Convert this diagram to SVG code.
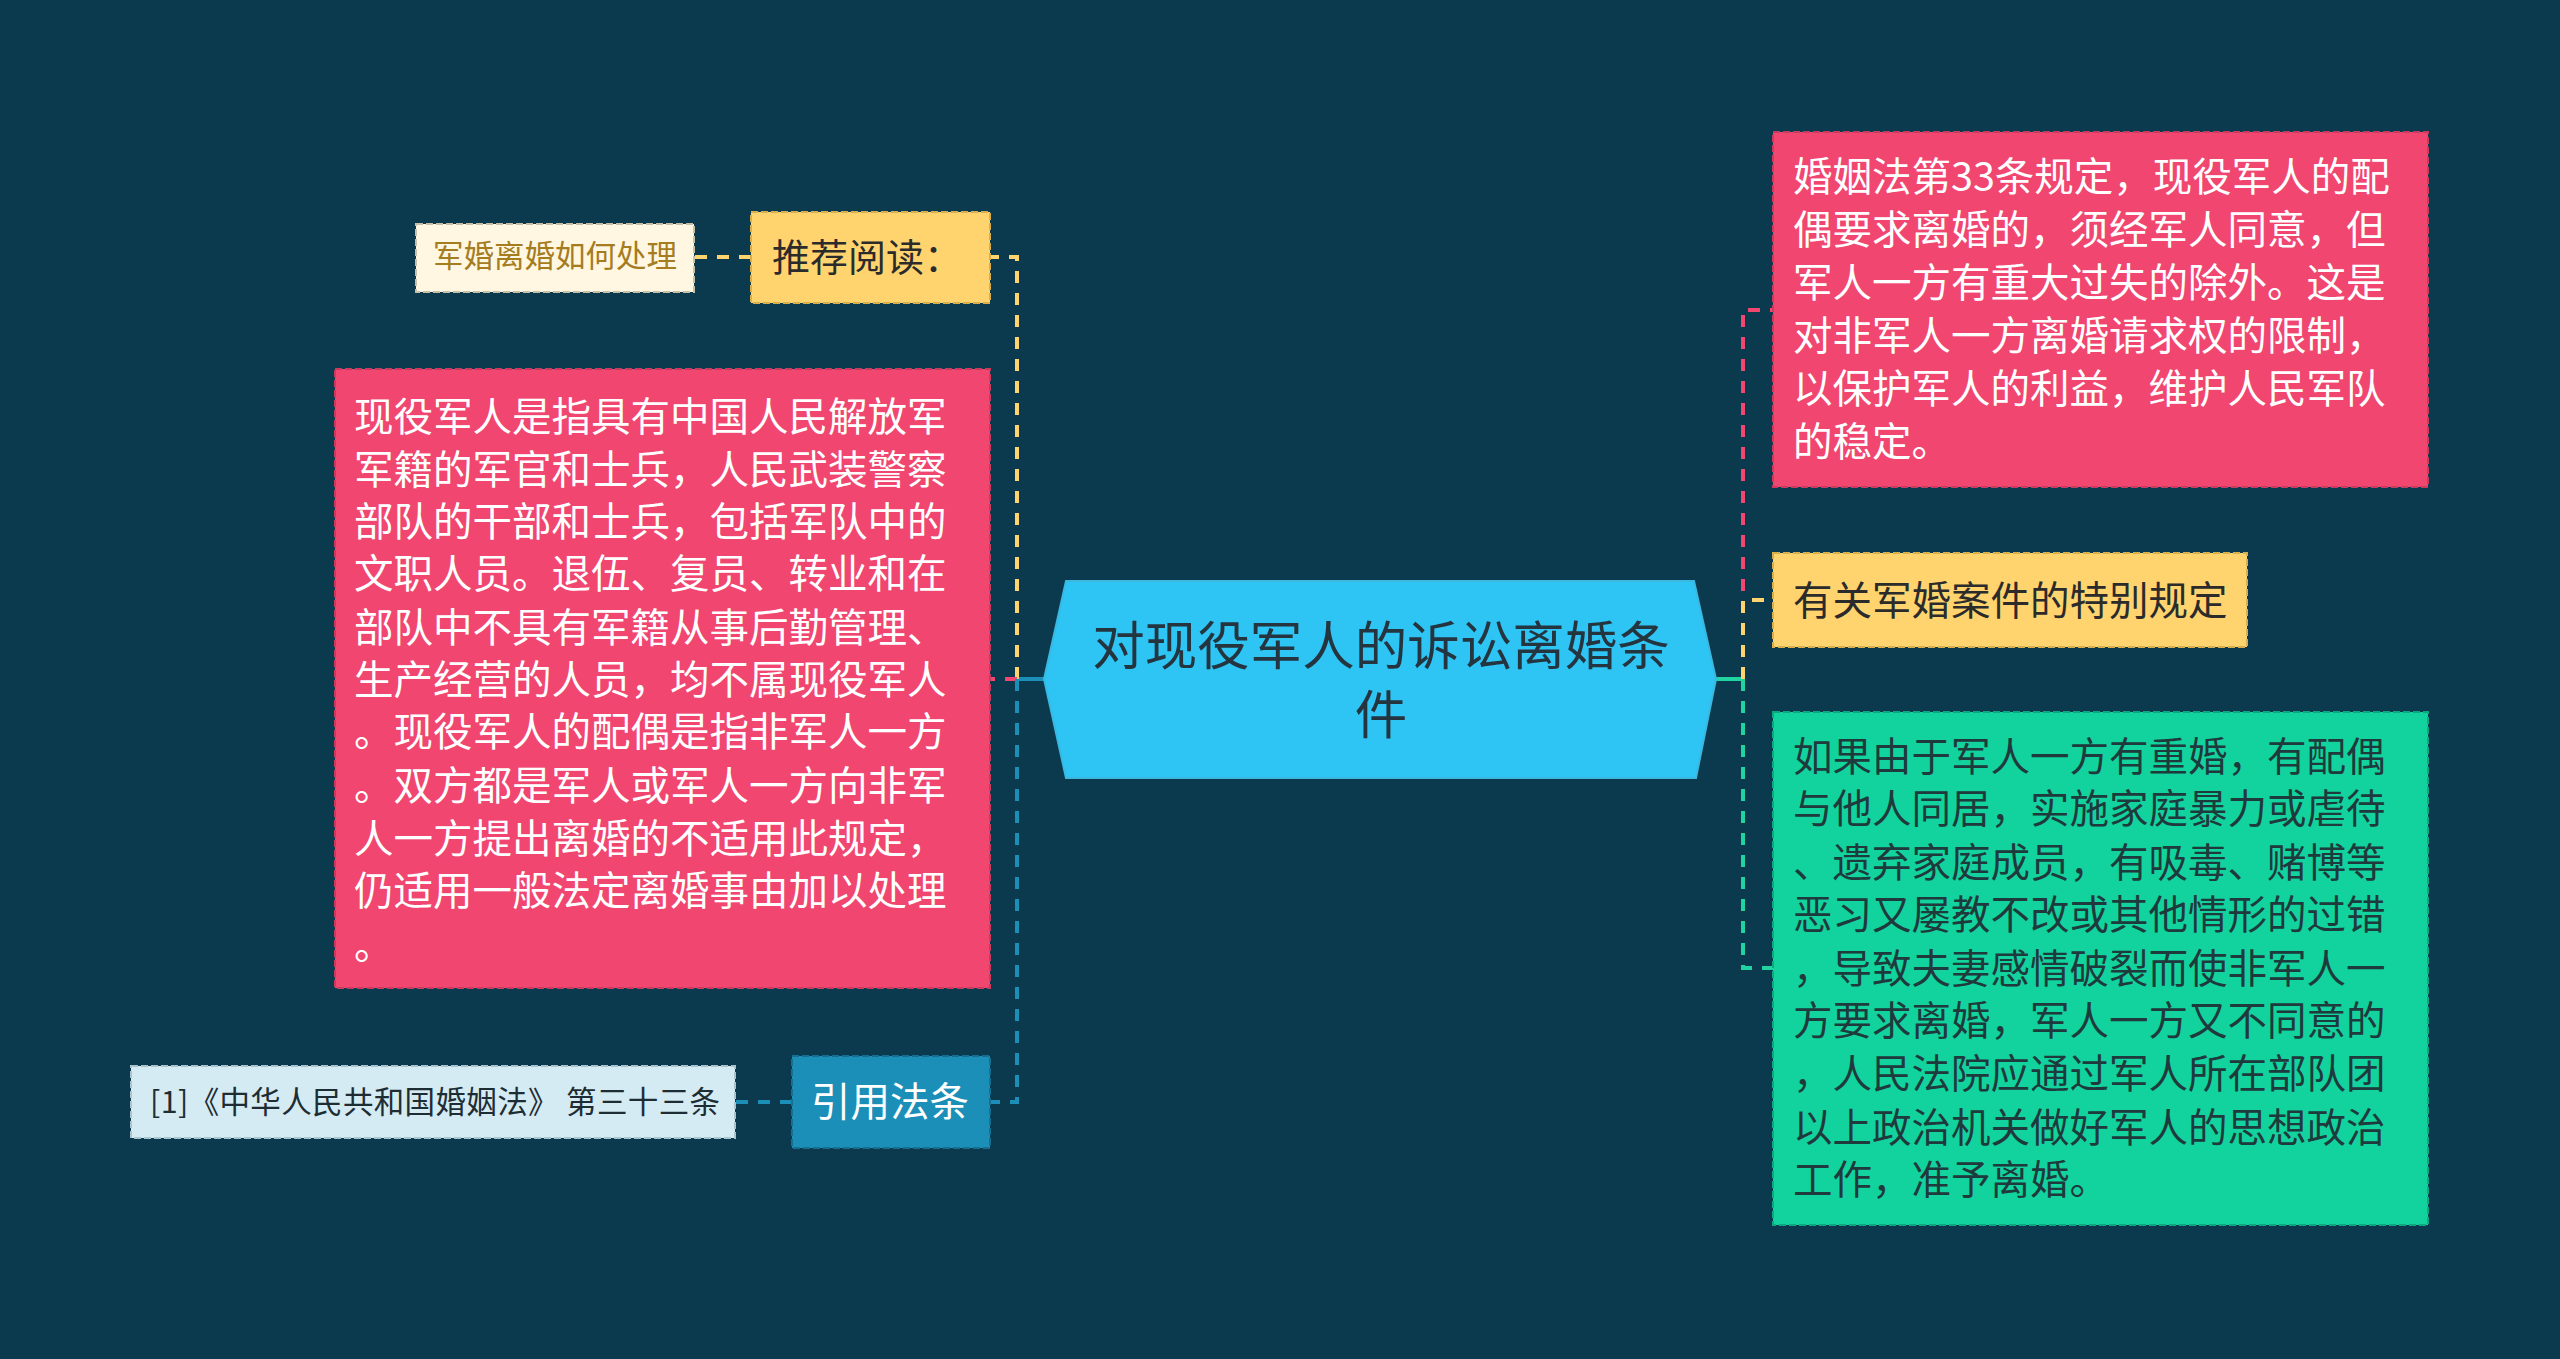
<svg xmlns="http://www.w3.org/2000/svg" width="2560" height="1359" viewBox="0 0 2560 1359">
<style>
text{font-family:"Noto Sans CJK SC","Noto Sans",sans-serif;}
.box{stroke-width:2;stroke-dasharray:7 3;}
.conn{fill:none;stroke-width:4;stroke-dasharray:12 10;}
.t40{font-size:39.5px;}
.wt{fill:#ffffff;}
.dk{fill:#1f3a3c;}
</style>
<rect width="2560" height="1359" fill="#0b394d"/>
<g id="connectors">
  <line x1="1045" y1="679" x2="1017" y2="679" stroke="#1c8fb8" stroke-width="4"/>
  <path class="conn" stroke="#ffd36e" d="M1017,679 L1017,257 L990,257"/>
  <path class="conn" stroke="#f0466f" d="M1017,679 L990,679"/>
  <path class="conn" stroke="#1c8fb8" d="M1017,679 L1017,1102 L990,1102"/>
  <path class="conn" stroke="#ffd36e" d="M751,257 L694,257"/>
  <path class="conn" stroke="#1c8fb8" d="M792,1102 L735,1102"/>
  <line x1="1715" y1="679" x2="1743" y2="679" stroke="#20d3a0" stroke-width="4"/>
  <path class="conn" stroke="#f0466f" d="M1743,679 L1743,310 L1773,310"/>
  <path class="conn" stroke="#ffd36e" d="M1743,679 L1743,600 L1773,600"/>
  <path class="conn" stroke="#20d3a0" d="M1743,679 L1743,968 L1773,968"/>
</g>
<g id="center">
  <polygon points="1044,679 1066,581 1694,581 1716,679 1696,778 1066,778" fill="#2ec4f4" stroke="#3ab8e0" stroke-width="2"/>
  <text x="1381" y="665" font-size="52.5" text-anchor="middle" fill="#243540">对现役军人的诉讼离婚条</text>
  <text x="1381" y="734" font-size="52.5" text-anchor="middle" fill="#243540">件</text>
</g>
<g id="n-tuijian">
  <rect class="box" x="751" y="212" width="239" height="91" fill="#ffd36e" stroke="#d9ae4e"/>
  <text x="772" y="271" font-size="38" fill="#2b2b2b">推荐阅读：</text>
</g>
<g id="n-junhun">
  <rect class="box" x="416" y="224" width="278" height="68" fill="#fff7e2" stroke="#c9c0a8"/>
  <text x="433" y="267" font-size="30.5" fill="#a57c1e">军婚离婚如何处理</text>
</g>
<g id="n-left-pink">
  <rect class="box" x="335" y="369" width="655" height="619" fill="#f0466f" stroke="#c93a5d"/>
  <g class="t40 wt">
    <text x="354" y="431">现役军人是指具有中国人民解放军</text>
    <text x="354" y="484">军籍的军官和士兵，人民武装警察</text>
    <text x="354" y="536">部队的干部和士兵，包括军队中的</text>
    <text x="354" y="588">文职人员。退伍、复员、转业和在</text>
    <text x="354" y="642">部队中不具有军籍从事后勤管理、</text>
    <text x="354" y="694">生产经营的人员，均不属现役军人</text>
    <text x="354" y="746">。现役军人的配偶是指非军人一方</text>
    <text x="354" y="800">。双方都是军人或军人一方向非军</text>
    <text x="354" y="853">人一方提出离婚的不适用此规定，</text>
    <text x="354" y="905">仍适用一般法定离婚事由加以处理</text>
    <text x="354" y="959">。</text>
  </g>
</g>
<g id="n-yinyong">
  <rect class="box" x="792" y="1056" width="198" height="92" fill="#1c8fb8" stroke="#166f90"/>
  <text x="811" y="1116" font-size="39.5" fill="#ffffff">引用法条</text>
</g>
<g id="n-ref">
  <rect class="box" x="131" y="1066" width="604" height="72" fill="#d5ebf3" stroke="#a9c4cf"/>
  <text x="150" y="1113" font-size="30.5" fill="#1e2d33" textLength="570" lengthAdjust="spacing">[1]《中华人民共和国婚姻法》 第三十三条</text>
</g>
<g id="n-right-pink">
  <rect class="box" x="1773" y="132" width="655" height="355" fill="#f0466f" stroke="#c93a5d"/>
  <g class="t40 wt">
    <text x="1793" y="191">婚姻法第33条规定，现役军人的配</text>
    <text x="1793" y="244">偶要求离婚的，须经军人同意，但</text>
    <text x="1793" y="297">军人一方有重大过失的除外。这是</text>
    <text x="1793" y="350">对非军人一方离婚请求权的限制，</text>
    <text x="1793" y="403">以保护军人的利益，维护人民军队</text>
    <text x="1793" y="456">的稳定。</text>
  </g>
</g>
<g id="n-right-yellow">
  <rect class="box" x="1773" y="553" width="474" height="94" fill="#ffd36e" stroke="#d9ae4e"/>
  <text x="1793" y="615" font-size="39.5" fill="#2b2b2b">有关军婚案件的特别规定</text>
</g>
<g id="n-right-green">
  <rect class="box" x="1773" y="712" width="655" height="513" fill="#12d39e" stroke="#0fa87e"/>
  <g class="t40 dk">
    <text x="1793" y="771">如果由于军人一方有重婚，有配偶</text>
    <text x="1793" y="823">与他人同居，实施家庭暴力或虐待</text>
    <text x="1793" y="877">、遗弃家庭成员，有吸毒、赌博等</text>
    <text x="1793" y="929">恶习又屡教不改或其他情形的过错</text>
    <text x="1793" y="983">，导致夫妻感情破裂而使非军人一</text>
    <text x="1793" y="1035">方要求离婚，军人一方又不同意的</text>
    <text x="1793" y="1088">，人民法院应通过军人所在部队团</text>
    <text x="1793" y="1142">以上政治机关做好军人的思想政治</text>
    <text x="1793" y="1194">工作，准予离婚。</text>
  </g>
</g>
</svg>
